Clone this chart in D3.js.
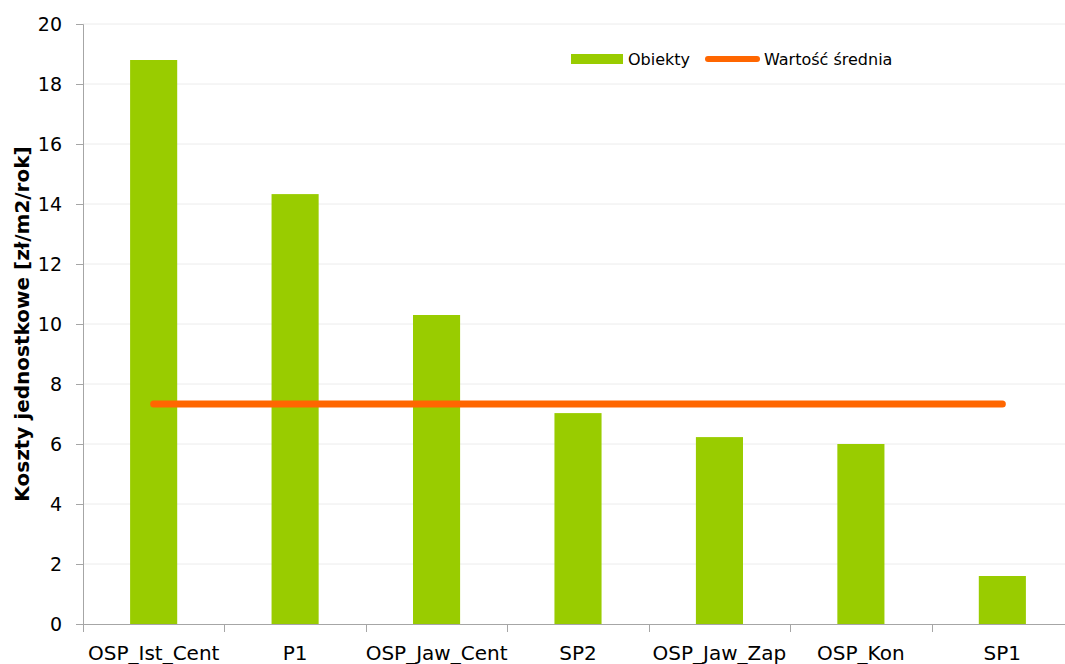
<!DOCTYPE html>
<html>
<head>
<meta charset="utf-8">
<script src="https://cdn.jsdelivr.net/npm/d3@7/dist/d3.min.js"></script>
<style>
  html, body { margin: 0; padding: 0; background: #fff; }
  svg text { font-family: "DejaVu Sans", Verdana, sans-serif; fill: #000; }
</style>
</head>
<body>
<svg id="chart" width="1065" height="664"></svg>
<script>
// Unit costs per building [zł/m2/rok]
const categories = ["OSP_Ist_Cent", "P1", "OSP_Jaw_Cent", "SP2", "OSP_Jaw_Zap", "OSP_Kon", "SP1"];
const objectValues = [18.8, 14.33, 10.3, 7.03, 6.23, 6.0, 1.6];
const meanValue = 7.33;
const yTicks = [0, 2, 4, 6, 8, 10, 12, 14, 16, 18, 20];
const yLabel = "Koszty jednostkowe [zł/m2/rok]";
const legendLabels = ["Obiekty", "Wartość średnia"];

const svg = d3.select("#chart");
const margin = { left: 83, top: 24, right: -8, bottom: 40 };
const W = 1065, H = 664;
const x0 = margin.left, x1 = W - margin.right;
const y0 = H - margin.bottom, y1 = margin.top;

const x = d3.scaleBand().domain(categories).range([x0, x1]).paddingInner(0.667).paddingOuter(0.333);
const xBand = d3.scaleBand().domain(categories).range([x0, x1]);
const y = d3.scaleLinear().domain([0, 20]).range([y0, y1]);

// horizontal gridlines
svg.append("g").selectAll("line").data(yTicks.filter(t => t > 0)).join("line")
  .attr("x1", x0).attr("x2", x1)
  .attr("y1", d => y(d)).attr("y2", d => y(d))
  .attr("stroke", "#ececec").attr("stroke-width", 1);

// bars
svg.append("g").selectAll("rect").data(objectValues).join("rect")
  .attr("x", (d, i) => x(categories[i]))
  .attr("width", x.bandwidth())
  .attr("y", d => y(d))
  .attr("height", d => y(0) - y(d))
  .attr("fill", "#99cc00");

// y axis
const yAxis = svg.append("g").attr("transform", `translate(${x0},0)`)
  .call(d3.axisLeft(y).tickValues(yTicks).tickSize(7).tickPadding(14).tickFormat(d3.format("d")));
yAxis.select(".domain").attr("stroke", "#a6a6a6");
yAxis.selectAll(".tick line").attr("stroke", "#a6a6a6");
yAxis.selectAll("text").style("font-size", "19px").style("font-family", "DejaVu Sans").attr("fill", "#000");

// x axis: ticks between categories
const xAxisG = svg.append("g").attr("transform", `translate(0,${y0})`);
xAxisG.append("line").attr("x1", x0 - 7).attr("x2", x1).attr("y1", 0.5).attr("y2", 0.5).attr("stroke", "#a6a6a6");
const bounds = categories.map(c => xBand(c));
xAxisG.selectAll("line.sep").data(bounds).join("line").attr("class", "sep")
  .attr("x1", d => Math.round(d) + 0.5).attr("x2", d => Math.round(d) + 0.5)
  .attr("y1", 0).attr("y2", 8).attr("stroke", "#a6a6a6");
xAxisG.selectAll("text").data(categories).join("text")
  .attr("x", d => xBand(d) + xBand.bandwidth() / 2)
  .attr("y", 36)
  .attr("text-anchor", "middle")
  .style("font-size", "20px")
  .text(d => d);

// mean line
const cx = c => x(c) + x.bandwidth() / 2;
svg.append("line")
  .attr("x1", cx(categories[0])).attr("x2", cx(categories[categories.length - 1]))
  .attr("y1", y(meanValue)).attr("y2", y(meanValue))
  .attr("stroke", "#ff6600").attr("stroke-width", 7).attr("stroke-linecap", "round");

// y axis title
svg.append("text")
  .attr("transform", `translate(29,${(y0 + y1) / 2}) rotate(-90)`)
  .attr("text-anchor", "middle")
  .style("font-size", "20px").style("font-weight", "bold")
  .text(yLabel);

// legend
const lg = svg.append("g");
lg.append("rect").attr("x", 571).attr("y", 54).attr("width", 52).attr("height", 10).attr("fill", "#99cc00");
lg.append("text").attr("x", 628).attr("y", 65).style("font-size", "16px").text(legendLabels[0]);
lg.append("line").attr("x1", 708).attr("x2", 757).attr("y1", 59).attr("y2", 59)
  .attr("stroke", "#ff6600").attr("stroke-width", 6).attr("stroke-linecap", "round");
lg.append("text").attr("x", 764).attr("y", 65).style("font-size", "16px").text(legendLabels[1]);
</script>
</body>
</html>
